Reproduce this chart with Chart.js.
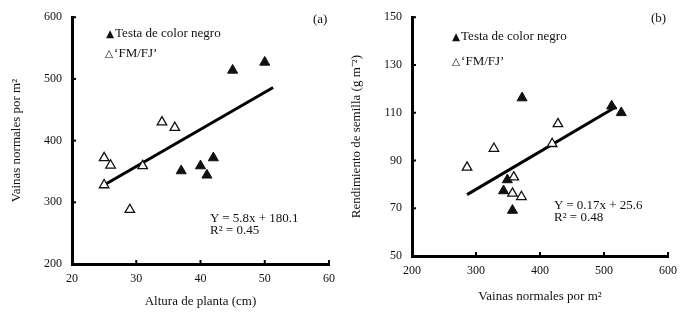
<!DOCTYPE html>
<html>
<head>
<meta charset="utf-8">
<script src="https://cdn.jsdelivr.net/npm/chart.js@4.4.1/dist/chart.umd.min.js"></script>
<style>
  html, body { margin: 0; padding: 0; background: #fff; }
  #wrap { position: relative; width: 688px; height: 312px; overflow: hidden; }
  canvas { position: absolute; top: 0; }
  .note { position: absolute; font-family: "Liberation Serif", "Times New Roman", serif; font-size: 13px;
          line-height: 1; color: #111; white-space: nowrap; }
  .tri { font-family: "DejaVu Sans", sans-serif; font-size: 10.5px; margin-right: 1px; }
</style>
</head>
<body>
<div id="wrap">
  <canvas id="chartA" width="344" height="312" style="left:0"></canvas>
  <canvas id="chartB" width="344" height="312" style="left:344px"></canvas>

  <div class="note" style="left:313px; top:12px">(a)</div>
  <div class="note" style="left:106px; top:26px"><span class="tri">▲</span>Testa de color negro</div>
  <div class="note" style="left:105px; top:46px"><span class="tri">△</span>‘FM/FJ’</div>
  <div class="note" style="left:210px; top:211px">Y = 5.8x + 180.1</div>
  <div class="note" style="left:210px; top:223px">R² = 0.45</div>

  <div class="note" style="left:651px; top:11px">(b)</div>
  <div class="note" style="left:452px; top:29px"><span class="tri">▲</span>Testa de color negro</div>
  <div class="note" style="left:452px; top:54px"><span class="tri">△</span>‘FM/FJ’</div>
  <div class="note" style="left:554px; top:198px">Y = 0.17x + 25.6</div>
  <div class="note" style="left:554px; top:210px">R² = 0.48</div>
</div>

<script>
// (a) Altura de planta vs vainas normales por m2
const alturaNegro = [37, 40, 41, 42, 45, 50];
const vainasNegroA = [351, 359, 344, 372, 514, 527];
const alturaFM = [25, 25, 26, 29, 31, 34, 36];
const vainasFMA = [372, 328, 360, 288, 359, 430, 421];
const lineaAx = [25, 51.3];
const lineaAy = [328, 486];

// (b) Vainas normales por m2 vs rendimiento de semilla
const vainasNegroB = [343, 349, 357, 372, 512, 527];
const rendNegro = [77.3, 81.9, 69.1, 116.2, 112.8, 110];
const vainasFMB = [286, 328, 357, 359, 371, 419, 428];
const rendFM = [87.1, 95, 76.2, 83, 74.8, 97, 105.3];
const lineaBx = [286, 519];
const lineaBy = [75.7, 112.5];

const FONT = "'Liberation Serif', 'Times New Roman', serif";
const INK = "#111";

const toPoints = (xs, ys) => xs.map((x, i) => ({ x: x, y: ys[i] }));

// small tick marks pointing into the plot, as in the original
const inwardTicks = {
  id: "inwardTicks",
  afterDraw(chart) {
    const { ctx, chartArea, scales } = chart;
    ctx.save();
    ctx.strokeStyle = "#000";
    ctx.lineWidth = 2;
    scales.x.ticks.forEach((t) => {
      const px = scales.x.getPixelForValue(t.value);
      ctx.beginPath();
      ctx.moveTo(px, chartArea.bottom);
      ctx.lineTo(px, chartArea.bottom - 4);
      ctx.stroke();
    });
    scales.y.ticks.forEach((t) => {
      const py = scales.y.getPixelForValue(t.value);
      ctx.beginPath();
      ctx.moveTo(chartArea.left, py);
      ctx.lineTo(chartArea.left + 4, py);
      ctx.stroke();
    });
    ctx.restore();
  },
};

function makeChart(id, cfg) {
  const ctx = document.getElementById(id).getContext("2d");
  return new Chart(ctx, {
    type: "scatter",
    data: {
      datasets: [
        {
          data: cfg.negro,
          pointStyle: "triangle",
          pointRadius: 5.8,
          backgroundColor: INK,
          borderColor: INK,
          borderWidth: 1,
          order: 2,
        },
        {
          data: cfg.fm,
          pointStyle: "triangle",
          pointRadius: 5.5,
          backgroundColor: "#fff",
          borderColor: INK,
          borderWidth: 1.3,
          order: 1,
        },
        {
          type: "line",
          data: cfg.linea,
          borderColor: "#000",
          borderWidth: 3,
          pointRadius: 0,
          fill: false,
          order: 5,
        },
      ],
    },
    options: {
      responsive: false,
      animation: false,
      layout: { padding: cfg.padding },
      plugins: { legend: { display: false }, tooltip: { enabled: false } },
      scales: {
        x: {
          type: "linear",
          min: cfg.xMin,
          max: cfg.xMax,
          grid: { display: false, drawTicks: false },
          border: { display: true, color: "#000", width: 3 },
          ticks: { stepSize: cfg.xStep, color: INK, padding: 8, font: { family: FONT, size: 12 } },
          title: {
            display: true,
            text: cfg.xTitle,
            color: INK,
            font: { family: FONT, size: 13 },
            padding: { top: 0, bottom: cfg.xTitlePad },
          },
          afterFit: (s) => { s.height = cfg.xHeight; },
        },
        y: {
          type: "linear",
          min: cfg.yMin,
          max: cfg.yMax,
          grid: { display: false, drawTicks: false },
          border: { display: true, color: "#000", width: 3 },
          ticks: { stepSize: cfg.yStep, color: INK, padding: 10, font: { family: FONT, size: 12 } },
          title: {
            display: true,
            text: cfg.yTitle,
            color: INK,
            font: { family: FONT, size: 13 },
            padding: { top: cfg.yTitlePad, bottom: 0 },
          },
          afterFit: (s) => { s.width = cfg.yWidth; },
        },
      },
    },
    plugins: [inwardTicks],
  });
}

makeChart("chartA", {
  negro: toPoints(alturaNegro, vainasNegroA),
  fm: toPoints(alturaFM, vainasFMA),
  linea: toPoints(lineaAx, lineaAy),
  xMin: 20, xMax: 60, xStep: 10,
  yMin: 200, yMax: 600, yStep: 100,
  xTitle: "Altura de planta (cm)",
  yTitle: "Vainas normales por m²",
  padding: { left: 0, top: 17, right: 15, bottom: 0 },
  xHeight: 48, yWidth: 72,
  xTitlePad: 3, yTitlePad: 9,
});

makeChart("chartB", {
  negro: toPoints(vainasNegroB, rendNegro),
  fm: toPoints(vainasFMB, rendFM),
  linea: toPoints(lineaBx, lineaBy),
  xMin: 200, xMax: 600, xStep: 100,
  yMin: 50, yMax: 150, yStep: 20,
  xTitle: "Vainas normales por m²",
  yTitle: "Rendimiento de semilla (g m⁻²)",
  padding: { left: 0, top: 12, right: 20, bottom: 0 },
  xHeight: 56, yWidth: 68,
  xTitlePad: 8, yTitlePad: 5,
});
</script>
</body>
</html>
